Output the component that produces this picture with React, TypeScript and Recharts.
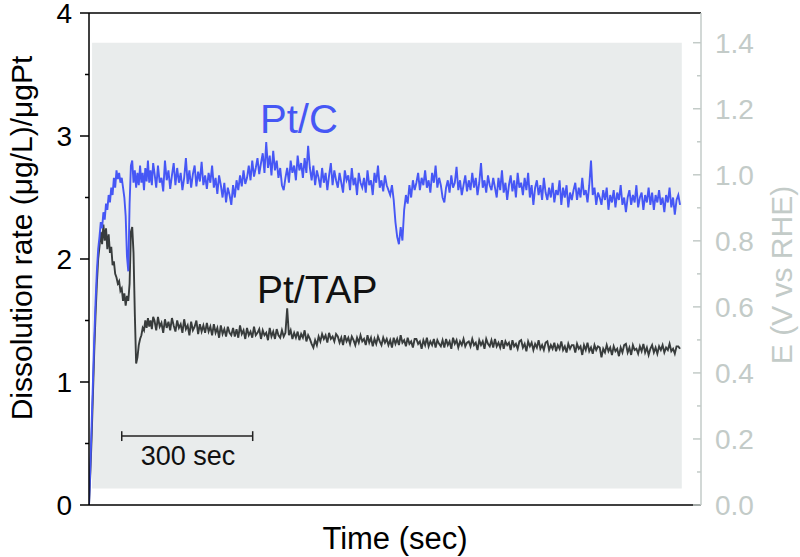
import React from 'react';
import { ComposedChart, Line, Area, XAxis, YAxis, ReferenceLine } from 'recharts';

// time grid: fine steps during the start-up transient, then 4 s steps
const EARLY_STEP = 3;
const MAIN_START = 150;
const MAIN_STEP = 4;

// Pt/C dissolution rate, (µg/L)/µgPt
const PTC_EARLY = [
  0.0, 0.3, 0.65, 1.0, 1.35, 1.65, 1.9, 2.08, 2.18, 2.3,
  2.25, 2.38, 2.32, 2.45, 2.4, 2.52, 2.46, 2.58, 2.52, 2.66,
  2.58, 2.72, 2.65, 2.7, 2.62, 2.66, 2.58, 2.5, 2.35, 2.02,
  1.9, 2.45, 2.76, 2.8, 2.62, 2.72, 2.58, 2.7, 2.6, 2.76,
  2.62, 2.7, 2.56, 2.74, 2.63, 2.8, 2.62, 2.72, 2.6, 2.78,
];
const PTC_MAIN = [
  2.7, 2.58, 2.76, 2.62, 2.66, 2.55, 2.8, 2.64, 2.72, 2.57, 2.68, 2.78, 2.6, 2.74, 2.62,
  2.7, 2.56, 2.66, 2.82, 2.61, 2.72, 2.58, 2.69, 2.76, 2.59, 2.71, 2.63, 2.79, 2.6, 2.68,
  2.57, 2.7, 2.62, 2.76, 2.58, 2.66, 2.53, 2.68, 2.6, 2.5, 2.62, 2.46, 2.58, 2.52, 2.44,
  2.6, 2.5, 2.64, 2.56, 2.68, 2.59, 2.72, 2.61, 2.66, 2.76, 2.64, 2.8, 2.67, 2.74, 2.82,
  2.69, 2.78, 2.86, 2.7, 2.95, 2.74, 2.84, 2.68, 2.88, 2.72, 2.8, 2.66, 2.74, 2.6, 2.56,
  2.66, 2.74, 2.62, 2.8, 2.7, 2.76, 2.64, 2.84, 2.72, 2.78, 2.66, 2.82, 2.7, 2.92, 2.74,
  2.64, 2.76, 2.6, 2.72, 2.66, 2.58, 2.74, 2.62, 2.7, 2.56, 2.68, 2.78, 2.6, 2.72, 2.64,
  2.58, 2.7, 2.62, 2.54, 2.72, 2.64, 2.68, 2.56, 2.74, 2.6, 2.66, 2.52, 2.7, 2.62, 2.58,
  2.66, 2.54, 2.72, 2.6, 2.64, 2.52, 2.7, 2.62, 2.76, 2.58, 2.64, 2.55, 2.68, 2.6, 2.56,
  2.52, 2.6, 2.48, 2.3, 2.18, 2.12, 2.26, 2.15, 2.4, 2.52, 2.45, 2.6, 2.5, 2.64, 2.56,
  2.62, 2.7, 2.56, 2.66, 2.6, 2.72, 2.58, 2.64, 2.54, 2.7, 2.62, 2.76, 2.58, 2.66, 2.6,
  2.5, 2.46, 2.58, 2.64, 2.54, 2.68, 2.58, 2.62, 2.75, 2.56, 2.64, 2.52, 2.6, 2.68, 2.55,
  2.64, 2.56, 2.7, 2.58, 2.66, 2.52, 2.62, 2.78, 2.58, 2.64, 2.54, 2.68, 2.6, 2.56, 2.66,
  2.58, 2.5, 2.66, 2.56, 2.72, 2.54, 2.62, 2.48, 2.6, 2.68, 2.55, 2.64, 2.5, 2.7, 2.58,
  2.62, 2.52, 2.66, 2.56, 2.7, 2.5, 2.6, 2.44, 2.58, 2.64, 2.52, 2.6, 2.48, 2.66, 2.54,
  2.48, 2.58, 2.5, 2.62, 2.46, 2.56, 2.52, 2.64, 2.44, 2.58, 2.5, 2.6, 2.42, 2.54, 2.48,
  2.56, 2.62, 2.48, 2.58, 2.5, 2.66, 2.52, 2.56, 2.46, 2.6, 2.8, 2.52, 2.58, 2.44, 2.54,
  2.5, 2.44, 2.56, 2.48, 2.58, 2.4, 2.52, 2.46, 2.56, 2.42, 2.54, 2.48, 2.6, 2.44, 2.5,
  2.38, 2.5, 2.56, 2.44, 2.52, 2.46, 2.6, 2.42, 2.5, 2.54, 2.4, 2.52, 2.46, 2.58, 2.44,
  2.54, 2.4, 2.52, 2.46, 2.56, 2.44, 2.5, 2.38, 2.52, 2.46, 2.58, 2.42, 2.5, 2.36, 2.48,
  2.52, 2.44,
];

// Pt/TAP dissolution rate
const TAP_EARLY = [
  0.0, 0.25, 0.55, 0.9, 1.25, 1.55, 1.8, 2.0, 2.1, 2.22,
  2.12, 2.28, 2.15, 2.25, 2.08, 2.2, 2.05, 2.1, 1.95, 1.98,
  1.88, 1.85, 1.8, 1.82, 1.74, 1.76, 1.66, 1.72, 1.62, 1.7,
  1.66, 1.8, 2.22, 2.26, 2.05, 1.55, 1.15, 1.2, 1.3, 1.35,
  1.38, 1.44, 1.42, 1.5, 1.44, 1.52, 1.45, 1.5, 1.43, 1.53,
];
const TAP_MAIN = [
  1.5, 1.42, 1.53, 1.45, 1.48, 1.4, 1.51, 1.44, 1.49, 1.42, 1.52, 1.46, 1.41, 1.5, 1.44,
  1.47, 1.4, 1.51, 1.43, 1.46, 1.38, 1.49, 1.42, 1.45, 1.5, 1.39, 1.47, 1.41, 1.46, 1.4,
  1.48, 1.41, 1.45, 1.38, 1.47, 1.4, 1.44, 1.36, 1.46, 1.39, 1.43, 1.37, 1.45, 1.4, 1.38,
  1.44, 1.37, 1.43, 1.36, 1.46, 1.39, 1.42, 1.35, 1.44, 1.38, 1.41, 1.36, 1.45, 1.38, 1.4,
  1.43, 1.35, 1.42, 1.38, 1.4, 1.34, 1.44, 1.37, 1.41, 1.35, 1.43, 1.38, 1.36, 1.42, 1.37,
  1.4, 1.6, 1.38, 1.42, 1.35, 1.4, 1.36, 1.41, 1.34, 1.39, 1.36, 1.42, 1.33, 1.38, 1.35,
  1.31, 1.28, 1.34, 1.3, 1.37, 1.33, 1.39, 1.35, 1.38, 1.32, 1.4, 1.35, 1.37, 1.33, 1.39,
  1.37, 1.32, 1.36, 1.3, 1.38, 1.33, 1.36, 1.31, 1.37, 1.34, 1.3, 1.36, 1.32, 1.38, 1.33,
  1.35, 1.3, 1.38, 1.32, 1.36, 1.29, 1.35, 1.31, 1.37, 1.33, 1.3, 1.36, 1.32, 1.35, 1.3,
  1.34, 1.28, 1.36, 1.31, 1.35, 1.3, 1.38, 1.32, 1.34, 1.29, 1.36, 1.31, 1.33, 1.28, 1.35,
  1.35, 1.31, 1.33, 1.27, 1.34, 1.3, 1.36, 1.29, 1.33, 1.3, 1.35, 1.28, 1.34, 1.31, 1.29,
  1.34, 1.28, 1.35, 1.3, 1.33, 1.27, 1.36, 1.31, 1.34, 1.28, 1.33, 1.3, 1.35, 1.29, 1.32,
  1.33, 1.29, 1.35, 1.3, 1.32, 1.26, 1.34, 1.3, 1.33, 1.27, 1.35, 1.31, 1.29, 1.34, 1.28,
  1.35, 1.29, 1.32, 1.28, 1.34, 1.27, 1.33, 1.3, 1.32, 1.26, 1.34, 1.29, 1.31, 1.27, 1.33,
  1.34, 1.28, 1.31, 1.25, 1.33, 1.29, 1.32, 1.26, 1.31, 1.28, 1.34, 1.27, 1.3, 1.26, 1.32,
  1.33, 1.26, 1.3, 1.27, 1.32, 1.25, 1.3, 1.27, 1.33, 1.26, 1.29, 1.24, 1.31, 1.27, 1.3,
  1.3, 1.24, 1.31, 1.27, 1.29, 1.22, 1.3, 1.26, 1.32, 1.25, 1.28, 1.23, 1.3, 1.26, 1.29,
  1.28, 1.2, 1.27, 1.24, 1.3, 1.25, 1.28, 1.22, 1.29, 1.25, 1.27, 1.21, 1.28, 1.24, 1.3,
  1.31, 1.24, 1.28, 1.22, 1.3, 1.26, 1.27, 1.23, 1.29, 1.25, 1.31, 1.24, 1.28, 1.22, 1.27,
  1.3, 1.24, 1.28, 1.23, 1.29, 1.26, 1.3, 1.24, 1.28, 1.26, 1.31, 1.25, 1.27, 1.23, 1.29,
  1.29, 1.27,
];

const LEFT_TICKS = [0, 0.5, 1, 1.5, 2, 2.5, 3, 3.5, 4];
const RIGHT_TICKS = [0, 0.1, 0.2, 0.3, 0.4, 0.5, 0.6, 0.7, 0.8, 0.9, 1.0, 1.1, 1.2, 1.3, 1.4];

// potential cycling window (V vs RHE) and its time span
const E_LOW = 0.05;
const E_HIGH = 1.4;
const CYCLE_TIMES = [7, 1358];

// 300 sec scale bar
const BAR_FROM = 75;
const BAR_TO = 375;
const BAR_Y = 0.56;

const BLUE = '#4657f5';
const DARK = '#383c3c';
const EGRAY = '#c3cbc8';
const FONT = '"Liberation Sans", Arial, Helvetica, sans-serif';

function toSeries(early: number[], main: number[]) {
  return [
    ...early.map((v, i) => ({ t: i * EARLY_STEP, v })),
    ...main.map((v, i) => ({ t: MAIN_START + i * MAIN_STEP, v })),
  ];
}

const ptcData = toSeries(PTC_EARLY, PTC_MAIN);
const tapData = toSeries(TAP_EARLY, TAP_MAIN);
const potentialData = CYCLE_TIMES.map((t) => ({ t, e: [E_LOW, E_HIGH] }));

const LeftTick = (props: any) => {
  const { x, y, payload } = props;
  const major = Number.isInteger(payload.value);
  return (
    <g>
      <line x1={x - (major ? 9 : 4)} x2={x} y1={y} y2={y} stroke="#000" strokeWidth={1.5} />
      {major && (
        <text x={x - 17} y={y} dy="0.36em" textAnchor="end" fontSize={28} fill="#000" fontFamily={FONT}>
          {payload.value}
        </text>
      )}
    </g>
  );
};

const RightTick = (props: any) => {
  const { x, y, payload } = props;
  const major = Math.round(payload.value * 10) % 2 === 0;
  return (
    <g>
      <line x1={x - (major ? 8 : 4)} x2={x} y1={y} y2={y} stroke={EGRAY} strokeWidth={1.5} />
      {major && (
        <text x={x + 14} y={y} dy="0.36em" textAnchor="start" fontSize={28} fill={EGRAY} fontFamily={FONT}>
          {Number(payload.value).toFixed(1)}
        </text>
      )}
    </g>
  );
};

export default function App() {
  return (
    <div style={{ position: 'relative', width: 800, height: 557, background: '#fff' }}>
      <style>{'body{margin:0}'}</style>
      <ComposedChart width={800} height={557} margin={{ top: 13, right: 0, bottom: 0, left: 0 }}>
        <XAxis
          dataKey="t"
          type="number"
          domain={[0, 1402]}
          allowDataOverflow
          tick={false}
          tickLine={false}
          height={52}
          axisLine={{ stroke: '#000', strokeWidth: 1.5 }}
        />
        <YAxis
          yAxisId="left"
          type="number"
          domain={[0, 4]}
          ticks={LEFT_TICKS}
          interval={0}
          width={89}
          tickSize={0}
          tickMargin={0}
          tickLine={false}
          tick={<LeftTick />}
          axisLine={{ stroke: '#000', strokeWidth: 1.5 }}
        />
        <YAxis
          yAxisId="right"
          type="number"
          orientation="right"
          domain={[0, 1.49]}
          allowDataOverflow
          ticks={RIGHT_TICKS}
          interval={0}
          width={99}
          tickSize={0}
          tickMargin={0}
          tickLine={false}
          tick={<RightTick />}
          axisLine={{ stroke: EGRAY, strokeWidth: 1.5 }}
        />
        <Area
          yAxisId="right"
          data={potentialData}
          dataKey="e"
          type="linear"
          fill="#e9ecec"
          fillOpacity={1}
          stroke="none"
          dot={false}
          activeDot={false}
          isAnimationActive={false}
        />
        <ReferenceLine yAxisId="left" y={4} stroke="#000" strokeWidth={1.5} />
        <ReferenceLine
          yAxisId="left"
          segment={[{ x: BAR_FROM, y: BAR_Y }, { x: BAR_TO, y: BAR_Y }]}
          stroke="#222"
          strokeWidth={1.5}
        />
        <ReferenceLine
          yAxisId="left"
          segment={[{ x: BAR_FROM, y: BAR_Y - 0.04 }, { x: BAR_FROM, y: BAR_Y + 0.04 }]}
          stroke="#222"
          strokeWidth={1.5}
        />
        <ReferenceLine
          yAxisId="left"
          segment={[{ x: BAR_TO, y: BAR_Y - 0.04 }, { x: BAR_TO, y: BAR_Y + 0.04 }]}
          stroke="#222"
          strokeWidth={1.5}
        />
        <Line
          yAxisId="left"
          data={tapData}
          dataKey="v"
          type="linear"
          stroke={DARK}
          strokeWidth={1.9}
          dot={false}
          isAnimationActive={false}
        />
        <Line
          yAxisId="left"
          data={ptcData}
          dataKey="v"
          type="linear"
          stroke={BLUE}
          strokeWidth={1.9}
          dot={false}
          isAnimationActive={false}
        />
      </ComposedChart>
      <svg
        width={800}
        height={557}
        style={{ position: 'absolute', left: 0, top: 0, pointerEvents: 'none' }}
        fontFamily={FONT}
      >
        <text transform="translate(32,238) rotate(-90)" textAnchor="middle" fontSize={30} fill="#000">
          Dissolution rate (μg/L)/μgPt
        </text>
        <text transform="translate(792,275) rotate(-90)" textAnchor="middle" fontSize={30} fill={EGRAY}>
          E (V vs RHE)
        </text>
        <text x={395} y={549} textAnchor="middle" fontSize={31} fill="#000">
          Time (sec)
        </text>
        <text x={260} y={133} fontSize={40} fill={BLUE}>
          Pt/C
        </text>
        <text x={257} y={303} fontSize={39} fill="#111">
          Pt/TAP
        </text>
        <text x={188} y={465} textAnchor="middle" fontSize={27} fill="#111">
          300 sec
        </text>
      </svg>
    </div>
  );
}
